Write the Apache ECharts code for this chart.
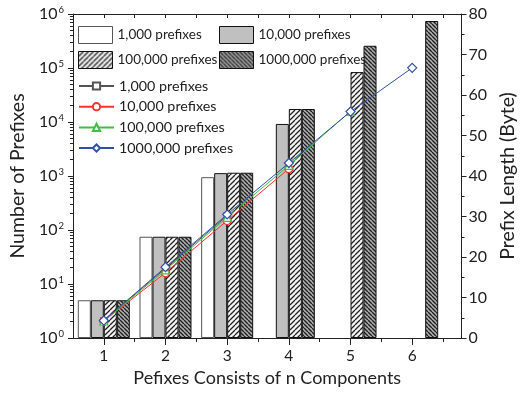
<!DOCTYPE html>
<html><head><meta charset="utf-8">
<script src="https://cdn.jsdelivr.net/npm/echarts@6/dist/echarts.min.js"></script>
<style>html,body{margin:0;padding:0;background:#fff}#c{width:526px;height:397px}</style>
</head><body><div id="c"></div>
<script>
// ---- data ----
const components = [1, 2, 3, 4, 5, 6];
const barNames = ['1,000 prefixes', '10,000 prefixes', '100,000 prefixes', '1000,000 prefixes'];
const bar1k   = [5, 75, 950];
const bar10k  = [5, 75, 1130, 9200];
const bar100k = [5, 75, 1150, 17400, 84000];
const bar1m   = [5, 75, 1150, 17400, 258000, 741000];
const len1k   = [4.3, 17.2, 30.2];
const len10k  = [4.2, 16.1, 29.0, 41.8];
const len100k = [4.2, 16.8, 29.8, 42.6, 56.0];
const len1m   = [4.3, 17.5, 30.5, 43.2, 55.9, 66.7];

const FONT = 'Lato';
function pair(vals){ return vals.map((v,i)=>[components[i], v]); }

function hatch(size, bg, dir, lw, col){
  const c = document.createElement('canvas'); c.width = size; c.height = size;
  const g = c.getContext('2d'); g.fillStyle = bg; g.fillRect(0,0,size,size);
  g.strokeStyle = col; g.lineWidth = lw; g.beginPath();
  for (let k=-1;k<=1;k++){
    if (dir === '/') { g.moveTo(k*size, size); g.lineTo(k*size+size, 0); }
    else { g.moveTo(k*size, 0); g.lineTo(k*size+size, size); }
  }
  g.stroke(); return c;
}
const pat100k = {image: hatch(5, '#f4f4f4', '/', 1.3, '#222'), repeat: 'repeat'};
const pat1m = {image: hatch(4, '#b0b0b0', '\\', 1.4, '#222'), repeat: 'repeat'};

const minorLog = [];
for (let e=0;e<6;e++) for (let m=2;m<=9;m++) minorLog.push(m*Math.pow(10,e));
const halves = [1.5,2.5,3.5,4.5,5.5,6.5];

const chart = echarts.init(document.getElementById('c'), null, {renderer:'canvas'});
const barStyle = [
  {color:'#ffffff', borderColor:'#555', borderWidth:1},
  {color:'#c0c0c0', borderColor:'#111', borderWidth:1},
  {color:pat100k, borderColor:'#111', borderWidth:1},
  {color:pat1m, borderColor:'#111', borderWidth:1}
];
const barData = [bar1k, bar10k, bar100k, bar1m];
const lineData = [len1k, len10k, len100k, len1m];
const lineCol = ['#555555', '#ff3030', '#40c040', '#3050a8'];
const lineSym = ['rect', 'circle', 'triangle', 'diamond'];
const lineSize = [6, 8, 8, 9];

const series = [];
barData.forEach((d,i)=>series.push({
  type:'bar', name:'b'+i, xAxisIndex:0, yAxisIndex:0,
  data:pair(d), barWidth:13, barGap:'0%', itemStyle:barStyle[i], z:2
}));
lineData.forEach((d,i)=>series.push({
  type:'line', name:'l'+i, xAxisIndex:0, yAxisIndex:1,
  data:pair(d), symbol:lineSym[i], symbolSize:lineSize[i], showAllSymbol:true,
  lineStyle:{color:lineCol[i], width:1}, itemStyle:{color:'#fff', borderColor:lineCol[i], borderWidth:1.2},
  z:5+i
}));

const txt = {fontFamily:FONT, fontSize:13.5, color:'#222', lineHeight:16};
const txtL = {fontFamily:FONT, fontSize:14.3, color:'#222', lineHeight:16};
const nameMap = {b0:barNames[0], b1:barNames[1], b2:barNames[2], b3:barNames[3],
                 l0:barNames[0], l1:barNames[1], l2:barNames[2], l3:barNames[3]};
const lg = {orient:'vertical', itemWidth:34, itemHeight:17, itemGap:7, textStyle:txt,
            formatter:n=>nameMap[n], selectedMode:false, padding:0, icon:'rect',
            itemStyle:{borderWidth:1}};

chart.setOption({
  animation:false,
  grid:{left:69, right:54, top:14, bottom:59},
  legend:[
    Object.assign({}, lg, {left:78, top:26, data:['b0','b2']}),
    Object.assign({}, lg, {left:219, top:26, data:['b1','b3']}),
    {orient:'vertical', itemWidth:35, itemHeight:9, itemGap:4.7, textStyle:txtL,
     formatter:n=>nameMap[n], selectedMode:false, padding:0,
     left:78, top:78, data:['l0','l1','l2','l3']}
  ],
  xAxis:[
    {type:'value', position:'bottom', min:0.5, max:6.8, interval:0.5,
     name:'Pefixes Consists of n Components', nameLocation:'middle', nameGap:30,
     nameTextStyle:{fontFamily:FONT, fontSize:18, color:'#222'},
     axisLine:{lineStyle:{color:'#222', width:1}},
     axisTick:{customValues:components, length:7, lineStyle:{color:'#222'}},
     axisLabel:{customValues:components, fontFamily:FONT, fontSize:15.5, color:'#222', margin:10},
     splitLine:{show:false}},
    {type:'value', position:'bottom', min:0.5, max:6.8, interval:0.5,
     axisLine:{show:false}, axisLabel:{show:false}, splitLine:{show:false},
     axisTick:{customValues:halves, length:4, lineStyle:{color:'#222'}}},
    {type:'value', position:'top', min:0.5, max:6.8, interval:0.5,
     axisLine:{lineStyle:{color:'#222'}}, axisLabel:{show:false}, splitLine:{show:false},
     axisTick:{inside:true, length:4, customValues:[1,1.5,2,2.5,3,3.5,4,4.5,5,5.5,6,6.5], lineStyle:{color:'#222'}}}
  ],
  yAxis:[
    {type:'log', logBase:10, min:1, max:1000000, position:'left',
     name:'Number of Prefixes', nameLocation:'middle', nameGap:42,
     nameTextStyle:{fontFamily:FONT, fontSize:19.5, color:'#222'},
     axisLine:{show:true, lineStyle:{color:'#222'}},
     axisTick:{length:5, lineStyle:{color:'#222'}},
     splitLine:{show:false},
     axisLabel:{margin:9, formatter:v=>'{b|10}{s|'+Math.round(Math.log10(v))+'}',
       rich:{b:{fontFamily:FONT, fontSize:16, color:'#222', lineHeight:18},
             s:{fontFamily:FONT, fontSize:9.5, color:'#222', verticalAlign:'top', lineHeight:18, padding:[0,0,0,1]}}}},
    {type:'value', min:0, max:80, interval:10, position:'right',
     name:'Prefix Length (Byte)', nameLocation:'middle', nameGap:36, nameRotate:90,
     nameTextStyle:{fontFamily:FONT, fontSize:19.5, color:'#222'},
     axisLine:{show:true, lineStyle:{color:'#222'}},
     axisTick:{length:5, lineStyle:{color:'#222'}},
     minorTick:{show:true, splitNumber:2, length:3, lineStyle:{color:'#222'}},
     axisLabel:{fontFamily:FONT, fontSize:16, color:'#222', margin:7},
     splitLine:{show:false}},
    {type:'log', logBase:10, min:1, max:1000000, position:'left',
     axisLine:{show:false}, axisLabel:{show:false}, splitLine:{show:false},
     axisTick:{customValues:minorLog, length:3, lineStyle:{color:'#222'}}}
  ],
  series:series
});
</script></body></html>
